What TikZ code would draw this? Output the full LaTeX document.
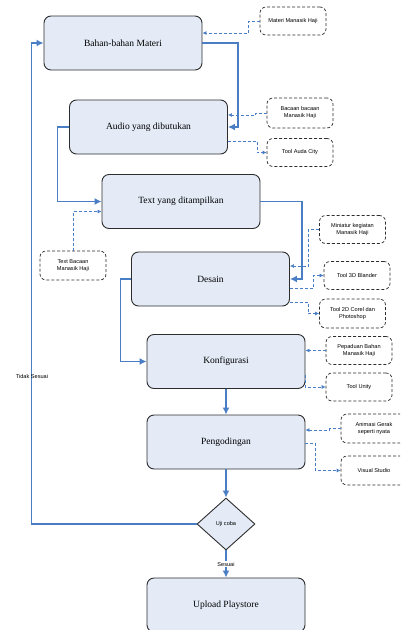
\documentclass[tikz,border=0pt]{standalone}
\usepackage{fontspec}
\setmainfont{Liberation Serif}
\newfontfamily\notefont{Liberation Sans}
\usepackage{tikz}
\usepackage{xcolor}
\usetikzlibrary{shapes.geometric, arrows.meta}

\definecolor{flowblue}{RGB}{74,126,196}
\definecolor{boxfill}{RGB}{228,235,247}
\definecolor{boxline}{RGB}{45,45,45}

\tikzset{
    mainbox/.style={draw=boxline, line width=0.9pt, fill=boxfill, rounded corners=7pt,
        minimum width=158pt, minimum height=54pt, font=\fontsize{9.5}{11}\selectfont},
    notebox/.style={draw=boxline, densely dashed, line width=0.7pt, fill=white, rounded corners=6pt,
        minimum width=66pt, minimum height=28pt, inner sep=1pt, align=center,
        font=\notefont\fontsize{5.6}{7}\selectfont},
    decbox/.style={diamond, draw=boxline, line width=0.9pt, fill=boxfill,
        minimum width=58pt, minimum height=52pt, inner sep=0pt,
        font=\notefont\fontsize{5.6}{7}\selectfont},
    mline/.style={draw=flowblue, line width=1.8pt, -{Latex[length=7pt,width=7pt]}},
    dline/.style={draw=flowblue, densely dashed, line width=0.7pt, -{Latex[length=4pt,width=4pt]}},
    lbl/.style={font=\notefont\fontsize{5.6}{7}\selectfont, inner sep=1pt}
}

\begin{document}
\begin{tikzpicture}[x=1pt, y=-1pt]
        \useasboundingbox (0,0) rectangle (400,630);
        \clip (0,0) rectangle (400,630);

        % main steps
        \node[mainbox] (bahan) at (123,43) {Bahan-bahan Materi};
        \node[mainbox] (audio) at (148.5,127) {Audio yang dibutukan};
        \node[mainbox] (teks) at (181,201.5) {Text yang ditampilkan};
        \node[mainbox] (desain) at (210.5,279) {Desain};
        \node[mainbox] (konfig) at (226,361.5) {Konfigurasi};
        \node[mainbox] (koding) at (226,442) {Pengodingan};
        \node[decbox] (uji) at (226,524) {Uji coba};
        \node[mainbox] (upload) at (226,605) {Upload Playstore};

        % side notes
        \node[notebox] (materi) at (293,21) {Materi Manasik Haji};
        \node[notebox, minimum height=30pt] (bacaan) at (300,113) {Bacaan bacaan\\Manasik Haji};
        \node[notebox] (auda) at (300,152.5) {Tool Auda City};
        \node[notebox, minimum height=29pt] (tbacaan) at (73,265.5) {Text Bacaan\\Manasik Haji};
        \node[notebox] (miniatur) at (352.5,229.5) {Miniatur kegiatan\\Manasik Haji};
        \node[notebox] (blander) at (357,275.5) {Tool 3D Blander};
        \node[notebox, minimum height=29pt] (corel) at (352.5,313.5) {Tool 2D Corel dan\\Photoshop};
        \node[notebox] (pepaduan) at (359,350.5) {Pepaduan Bahan\\Manasik Haji};
        \node[notebox] (unity) at (359,387) {Tool Unity};
        \node[notebox, minimum height=29pt] (animasi) at (374,428.5) {Animasi Gerak\\seperti nyata};
        \node[notebox, minimum height=29pt] (visual) at (374,470.5) {Visual Studio};

        % main flow
        \draw[mline] (bahan.east) -| ([xshift=10pt]audio.east) -- (audio.east);
        \draw[mline] (audio.west) -| ([xshift=-44pt]teks.west) -- (teks.west);
        \draw[mline] (teks.east) -| ([xshift=12pt]desain.east) -- (desain.east);
        \draw[mline] (desain.west) -| ([xshift=-26pt]konfig.west) -- (konfig.west);
        \draw[mline] (konfig.south) -- (koding.north);
        \draw[mline] (koding.south) -- (uji.north);
        \draw[mline] (uji.south) -- node[lbl, fill=white] (sesuai) {Sesuai} (upload.north);
        \draw[mline] (uji.west) -| ([xshift=-12pt]bahan.west) -- (bahan.west);
        \node[lbl] (tidak) at (32,376) {Tidak Sesuai};

        % notes
        \draw[dline] (materi.west) -- ++(-11,0) |- ([yshift=10pt]bahan.east);
        \draw[dline] (bacaan.west) -- ++(-11,0) |- ([yshift=12pt]audio.east);
        \draw[dline] ([yshift=-14pt]audio.east) -- ++(29,0) |- (auda.west);
        \draw[dline] (tbacaan.north) |- ([yshift=-10pt]teks.west);
        \draw[dline] (miniatur.west) -- ++(-11,0) |- ([yshift=13pt]desain.east);
        \draw[dline] ([yshift=-9pt]desain.east) -- ++(23.5,0) |- (blander.west);
        \draw[dline] ([yshift=-23pt]desain.east) -- ++(18.5,0) |- (corel.west);
        \draw[dline] (pepaduan.west) -- (pepaduan.west -| konfig.east);
        \draw[dline] ([yshift=-13pt]konfig.east) |- (unity.west);
        \draw[dline] (animasi.west) -- ++(-11,0) |- ([yshift=12pt]koding.east);
        \draw[dline] ([yshift=-1pt]koding.east) -- ++(10,0) |- (visual.west);
\end{tikzpicture}
\end{document}
